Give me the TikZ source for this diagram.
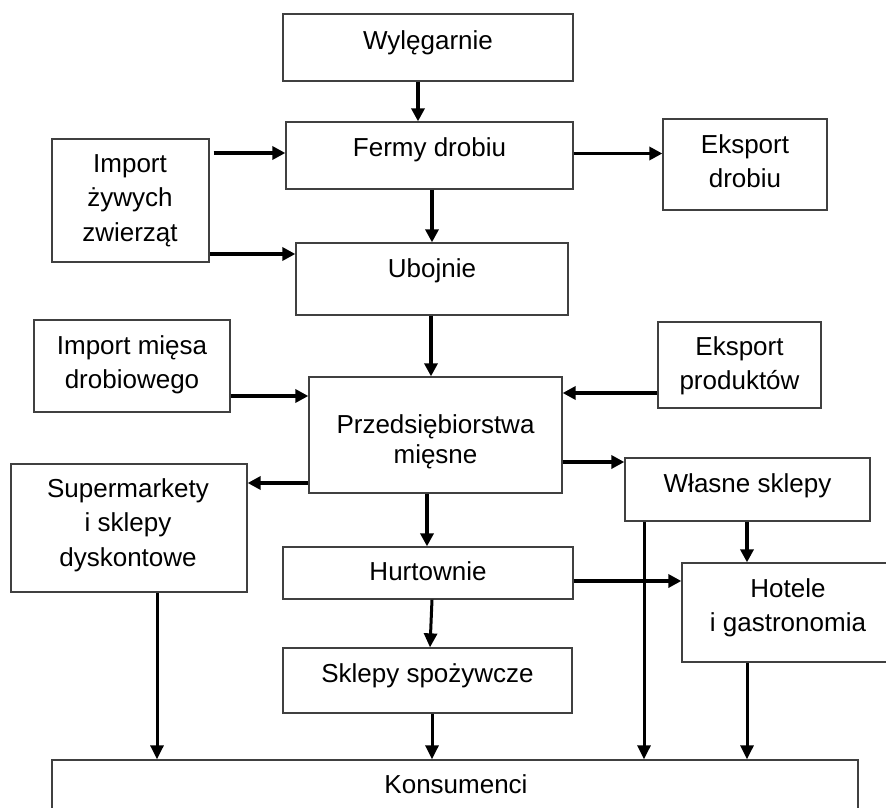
\documentclass[tikz,border=0pt]{standalone}
\usepackage{fontspec}
\setmainfont{Liberation Sans}
\usetikzlibrary{arrows.meta}
\begin{document}
\begin{tikzpicture}[x=1pt,y=-1pt,
  box/.style={draw=black!75,line width=1.3pt,inner sep=0pt},
  lbl/.style={font=\fontsize{26}{34.5}\selectfont,align=center,inner sep=0pt},
  arr/.style={line width=3.6pt,-{Triangle[length=13pt,width=13pt]}},
  arrb/.style={line width=3pt,-{Triangle[length=14pt,width=13pt]}}]
\clip (0,0) rectangle (886,808);
\fill[white] (0,0) rectangle (886,808);
% boxes
\node[box,minimum width=290pt,minimum height=67pt] (wyl) at (428,47.5) {};
\node[box,minimum width=287pt,minimum height=67pt] (fermy) at (429.5,155.5) {};
\node[box,minimum width=164pt,minimum height=91pt] (eksd) at (745,164.5) {};
\node[box,minimum width=157pt,minimum height=123pt] (impz) at (130.5,200.5) {};
\node[box,minimum width=272pt,minimum height=72pt] (uboj) at (432,279) {};
\node[box,minimum width=196pt,minimum height=92pt] (impm) at (132,366) {};
\node[box,minimum width=163pt,minimum height=86pt] (eksp) at (739.5,365) {};
\node[box,minimum width=253pt,minimum height=116pt] (przed) at (435.5,435) {};
\node[box,minimum width=236pt,minimum height=128pt] (super) at (129,528) {};
\node[box,minimum width=245pt,minimum height=63pt] (wlas) at (747.5,489.5) {};
\node[box,minimum width=290pt,minimum height=52pt] (hurt) at (428,573) {};
\node[box,minimum width=208pt,minimum height=99pt] (hotel) at (786,612.5) {};
\node[box,minimum width=289pt,minimum height=65pt] (sklep) at (427.5,680.5) {};
\node[box,minimum width=806pt,minimum height=70pt] (kons) at (455,795) {};
% labels
\node[lbl,anchor=base] (wylt) at (428,49) {Wylęgarnie};
\node[lbl,anchor=base] (fermyt) at (429.5,156) {Fermy drobiu};
\node[lbl,anchor=north] (eksdt) at (745,134) {Eksport\\drobiu};
\node[lbl,anchor=north] (impzt) at (130,154) {Import\\żywych\\zwierząt};
\node[lbl,anchor=base] (ubojt) at (432,277) {Ubojnie};
\node[lbl,anchor=north] (impmt) at (132,335) {Import mięsa\\drobiowego};
\node[lbl,anchor=north] (ekspt) at (739.5,336) {Eksport\\produktów};
\node[lbl,anchor=north] (przedt) at (435.5,414) {Przedsiębiorstwa\\[-4.5pt]mięsne};
\node[lbl,anchor=north] (supert) at (128,478) {Supermarkety\\i sklepy\\dyskontowe};
\node[lbl,anchor=base] (wlast) at (747.5,492) {Własne sklepy};
\node[lbl,anchor=base] (hurtt) at (428,580) {Hurtownie};
\node[lbl,anchor=north] (hotelt) at (788,578) {Hotele\\i gastronomia};
\node[lbl,anchor=base] (sklept) at (427.5,682) {Sklepy spożywcze};
\node[lbl,anchor=base] (konst) at (456,793) {Konsumenci};
% reference coordinates
\coordinate (X418) at (418,0);
\coordinate (X432) at (432,0);
\coordinate (X431) at (431,0);
\coordinate (X430) at (430,0);
\coordinate (X427) at (427,0);
\coordinate (X747) at (747,0);
\coordinate (X644) at (644,0);
\coordinate (X157) at (157,0);
\coordinate (Y153) at (0,153);
\coordinate (Y153b) at (0,153.5);
\coordinate (Y254) at (0,254);
\coordinate (Y396) at (0,396);
\coordinate (Y393) at (0,393);
\coordinate (Y483) at (0,483);
\coordinate (Y462) at (0,462);
\coordinate (Y581) at (0,581);
% connectors
\draw[arr] (wyl.south -| X418) -- (fermy.north -| X418);
\draw[arr] (fermy.south -| X432) -- (uboj.north -| X432);
\draw[arr] ([xshift=4pt]impz.east |- Y153) -- (fermy.west |- Y153);
\draw[arr] (impz.east |- Y254) -- (uboj.west |- Y254);
\draw[arr] (fermy.east |- Y153b) -- (eksd.west |- Y153b);
\draw[arr] (uboj.south -| X431) -- (przed.north -| X431);
\draw[arr] (impm.east |- Y396) -- (przed.west |- Y396);
\draw[arr] (eksp.west |- Y393) -- (przed.east |- Y393);
\draw[arr] (przed.west |- Y483) -- (super.east |- Y483);
\draw[arr] (przed.east |- Y462) -- (wlas.west |- Y462);
\draw[arr] (przed.south -| X427) -- (hurt.north -| X427);
\draw[arr] (wlas.south -| X747) -- (hotel.north -| X747);
\draw[arrb] (wlas.south -| X644) -- (kons.north -| X644);
\draw[arr] (hurt.east |- Y581) -- (hotel.west |- Y581);
\draw[arrb] (hurt.south -| X432) -- (sklep.north -| X430);
\draw[arrb] (sklep.south -| X432) -- (kons.north -| X432);
\draw[arrb] (super.south -| X157) -- (kons.north -| X157);
\draw[arrb] (hotel.south -| X747) -- (kons.north -| X747);
\end{tikzpicture}
\end{document}
